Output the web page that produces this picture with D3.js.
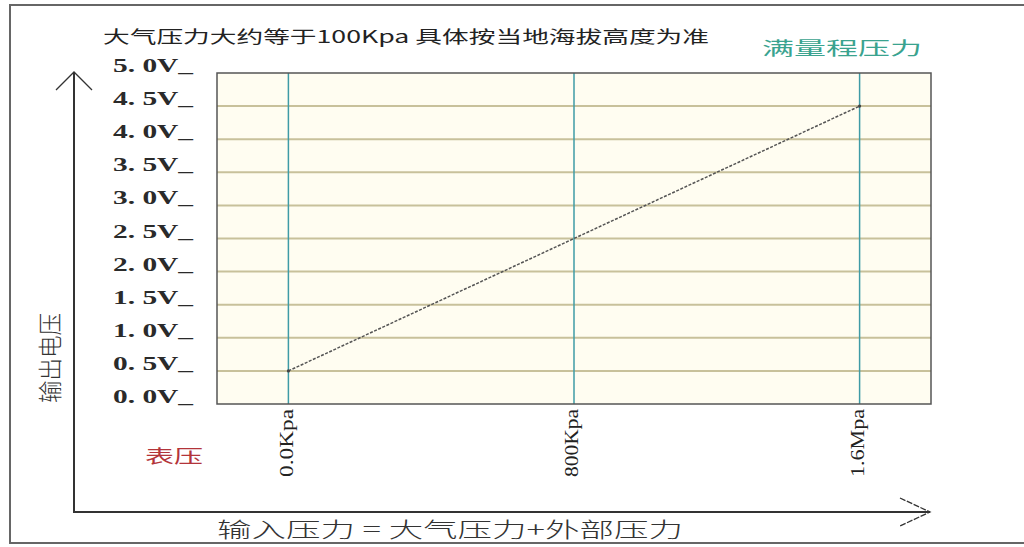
<!DOCTYPE html>
<html>
<head>
<meta charset="utf-8">
<script src="https://cdn.jsdelivr.net/npm/d3@7"></script>
<style>
  body { margin: 0; background: #fff; }
  svg { display: block; }
</style>
</head>
<body>
<svg id="chart" width="1024" height="547"></svg>
<script>
// input pressure (kPa) vs output voltage (V)
const pressure = [0, 800, 1600];
const voltage = [0.5, 2.5, 4.5];

const yTicks = [0, 0.5, 1, 1.5, 2, 2.5, 3, 3.5, 4, 4.5, 5];
const yTickLabels = ['0. 0V_', '0. 5V_', '1. 0V_', '1. 5V_', '2. 0V_', '2. 5V_',
  '3. 0V_', '3. 5V_', '4. 0V_', '4. 5V_', '5. 0V_'];
const xTicks = [0, 800, 1600];
const xTickLabels = ['0.0Kpa', '800Kpa', '1.6Mpa'];

const titleText = '大气压力大约等于100Kpa 具体按当地海拔高度为准';
const fullScaleText = '满量程压力';
const gaugeText = '表压';
const yTitle = '输出电压';
const xTitle = '输入压力 = 大气压力+外部压力';

const cjk = '"Noto Sans CJK SC", "Noto Sans", sans-serif';
const serif = '"Liberation Serif", "DejaVu Serif", serif';

const svg = d3.select('#chart');

const x = d3.scaleLinear().domain([-200, 1800]).range([217, 931]);
const y = d3.scaleLinear().domain([0, 5]).range([404, 73]);

// outer frame
svg.append('rect')
  .attr('x', 10).attr('y', 5)
  .attr('width', 1030).attr('height', 538)
  .attr('fill', 'none')
  .attr('stroke', '#666')
  .attr('stroke-width', 2);

// plot background
svg.append('rect')
  .attr('x', x.range()[0]).attr('y', y.range()[1])
  .attr('width', x.range()[1] - x.range()[0])
  .attr('height', y.range()[0] - y.range()[1])
  .attr('fill', '#fffdf1');

// horizontal grid
svg.append('g')
  .selectAll('line')
  .data(yTicks.slice(1, -1))
  .join('line')
  .attr('x1', x.range()[0]).attr('x2', x.range()[1])
  .attr('y1', d => y(d)).attr('y2', d => y(d))
  .attr('stroke', '#c8c19b')
  .attr('stroke-width', 2);

// vertical grid
svg.append('g')
  .selectAll('line')
  .data(xTicks)
  .join('line')
  .attr('x1', d => x(d)).attr('x2', d => x(d))
  .attr('y1', y.range()[1]).attr('y2', y.range()[0])
  .attr('stroke', '#3f9ba6')
  .attr('stroke-width', 1.5);

// plot border
svg.append('rect')
  .attr('x', x.range()[0]).attr('y', y.range()[1])
  .attr('width', x.range()[1] - x.range()[0])
  .attr('height', y.range()[0] - y.range()[1])
  .attr('fill', 'none')
  .attr('stroke', '#555')
  .attr('stroke-width', 1.5);

// data line
const line = d3.line()
  .x((d, i) => x(pressure[i]))
  .y(d => y(d));

svg.append('path')
  .attr('d', line(voltage))
  .attr('fill', 'none')
  .attr('stroke', '#555')
  .attr('stroke-width', 1.5)
  .attr('stroke-dasharray', '3,1.5');

svg.append('g')
  .selectAll('circle')
  .data([0, voltage.length - 1])
  .join('circle')
  .attr('cx', i => x(pressure[i]))
  .attr('cy', i => y(voltage[i]))
  .attr('r', 1.6)
  .attr('fill', '#444');

// y tick labels
svg.append('g')
  .selectAll('text')
  .data(yTicks)
  .join('text')
  .attr('x', 113)
  .attr('y', d => y(d) - 1)
  .attr('textLength', 80)
  .attr('lengthAdjust', 'spacingAndGlyphs')
  .attr('font-family', serif)
  .attr('font-size', 18)
  .attr('font-weight', 'bold')
  .attr('fill', '#2a2a2a')
  .text((d, i) => yTickLabels[i]);

// x tick labels, rotated
svg.append('g')
  .selectAll('text')
  .data(xTicks)
  .join('text')
  .attr('transform', d => `translate(${x(d) - 2},409) rotate(-90)`)
  .attr('text-anchor', 'end')
  .attr('dy', '0.35em')
  .attr('textLength', 68)
  .attr('lengthAdjust', 'spacingAndGlyphs')
  .attr('font-family', serif)
  .attr('font-size', 18)
  .attr('fill', '#222')
  .text((d, i) => xTickLabels[i]);

// axis arrows
const axisG = svg.append('g')
  .attr('stroke', '#333')
  .attr('fill', 'none');

axisG.append('line')
  .attr('x1', 74).attr('y1', 73).attr('x2', 74).attr('y2', 512)
  .attr('stroke-width', 2);
axisG.append('line')
  .attr('x1', 73).attr('y1', 512).attr('x2', 930).attr('y2', 512)
  .attr('stroke-width', 2);
axisG.append('path')
  .attr('d', 'M56,90L74,72L92,90')
  .attr('stroke-width', 1.3);
axisG.append('path')
  .attr('d', 'M900,498L930,512L900,526')
  .attr('stroke-width', 1.3)
  .attr('stroke-dasharray', '6,1.5');

// texts
svg.append('text')
  .attr('x', 103).attr('y', 43)
  .attr('textLength', 606)
  .attr('lengthAdjust', 'spacingAndGlyphs')
  .attr('font-family', cjk)
  .attr('font-size', 17)
  .attr('fill', '#222')
  .text(titleText);

svg.append('text')
  .attr('x', 762).attr('y', 55)
  .attr('textLength', 160)
  .attr('lengthAdjust', 'spacingAndGlyphs')
  .attr('font-family', cjk)
  .attr('font-size', 18)
  .attr('fill', '#3aa38f')
  .text(fullScaleText);

svg.append('text')
  .attr('x', 145).attr('y', 463)
  .attr('textLength', 58)
  .attr('lengthAdjust', 'spacingAndGlyphs')
  .attr('font-family', cjk)
  .attr('font-size', 18)
  .attr('fill', '#b3343a')
  .text(gaugeText);

svg.append('text')
  .attr('transform', 'translate(50,358) rotate(-90)')
  .attr('text-anchor', 'middle')
  .attr('dy', '0.36em')
  .attr('textLength', 90)
  .attr('lengthAdjust', 'spacingAndGlyphs')
  .attr('font-family', cjk)
  .attr('font-size', 24)
  .attr('font-weight', 300)
  .attr('fill', '#333')
  .text(yTitle);

svg.append('text')
  .attr('x', 217).attr('y', 537)
  .attr('textLength', 466)
  .attr('lengthAdjust', 'spacingAndGlyphs')
  .attr('font-family', cjk)
  .attr('font-size', 21)
  .attr('font-weight', 300)
  .attr('fill', '#333')
  .text(xTitle);
</script>
</body>
</html>
